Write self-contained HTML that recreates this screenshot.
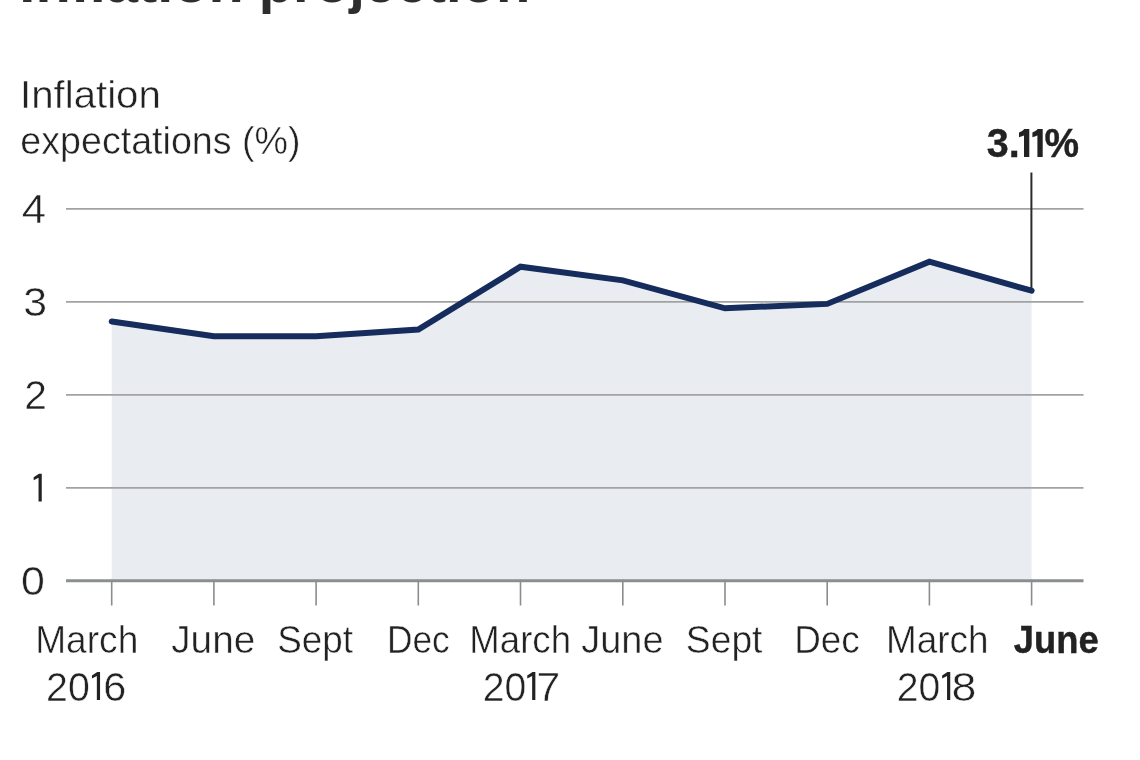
<!DOCTYPE html>
<html>
<head>
<meta charset="utf-8">
<style>
html,body{margin:0;padding:0;background:#fff;width:1140px;height:760px;overflow:hidden;}
svg{display:block;}
text{font-family:"Liberation Sans",sans-serif;fill:#222;stroke:#fff;stroke-width:0.5px;}
.b{font-weight:bold;stroke:#222;stroke-width:0.4px;}
.t{fill:#2e2e2e;stroke-width:0;}
</style>
</head>
<body>
<svg width="1140" height="760" viewBox="0 0 1140 760">
<rect x="0" y="0" width="1140" height="760" fill="#fff"/>
<path d="M111.7,321.5 L213.9,336.2 L316.1,336.2 L418.3,329.6 L520.5,266.7 L622.8,280.4 L725,308.3 L827.2,303.9 L929.4,261.7 L1031.6,290.7 L1031.6,580.7 L111.7,580.7 Z" fill="#e9edf2"/>
<g stroke="#a2a2a2" stroke-width="1.8">
<line x1="66" y1="208.9" x2="1083.5" y2="208.9"/>
<line x1="66" y1="301.9" x2="1083.5" y2="301.9"/>
<line x1="66" y1="394.9" x2="1083.5" y2="394.9"/>
<line x1="66" y1="487.8" x2="1083.5" y2="487.8"/>
</g>
<g stroke="#8a8d8d" stroke-width="1.6">
<line x1="111.7" y1="579.7" x2="111.7" y2="605.5"/>
<line x1="213.9" y1="579.7" x2="213.9" y2="605.5"/>
<line x1="316.1" y1="579.7" x2="316.1" y2="605.5"/>
<line x1="418.3" y1="579.7" x2="418.3" y2="605.5"/>
<line x1="520.5" y1="579.7" x2="520.5" y2="605.5"/>
<line x1="622.8" y1="579.7" x2="622.8" y2="605.5"/>
<line x1="725" y1="579.7" x2="725" y2="605.5"/>
<line x1="827.2" y1="579.7" x2="827.2" y2="605.5"/>
<line x1="929.4" y1="579.7" x2="929.4" y2="605.5"/>
<line x1="1031.6" y1="579.7" x2="1031.6" y2="605.5"/>
</g>
<line x1="66" y1="580.7" x2="1083.5" y2="580.7" stroke="#8a8e8e" stroke-width="3"/>
<line x1="1031.4" y1="172.5" x2="1031.4" y2="290" stroke="#2b2b2b" stroke-width="2"/>
<polyline points="111.7,321.5 213.9,336.2 316.1,336.2 418.3,329.6 520.5,266.7 622.8,280.4 725,308.3 827.2,303.9 929.4,261.7 1031.6,290.7" fill="none" stroke="#152c5c" stroke-width="6.0" stroke-linejoin="miter" stroke-linecap="round"/>
<g style="will-change:transform">
<text class="b t" x="19.39" y="1.50" font-size="56" textLength="224.39" lengthAdjust="spacingAndGlyphs">Inflation</text>
<text class="b t" x="258.73" y="1.50" font-size="56" textLength="271.59" lengthAdjust="spacingAndGlyphs">projection</text>
<text x="20.06" y="107.56" font-size="39.5" textLength="140.80" lengthAdjust="spacingAndGlyphs">Inflation</text>
<text x="20.33" y="153.90" font-size="39.5" textLength="280.23" lengthAdjust="spacingAndGlyphs">expectations (%)</text>
<text x="21.77" y="223.26" font-size="40.5" textLength="24.39" lengthAdjust="spacingAndGlyphs">4</text>
<text x="23.16" y="316.39" font-size="40.5" textLength="23.85" lengthAdjust="spacingAndGlyphs">3</text>
<text x="24.27" y="408.56" font-size="40.5" textLength="22.68" lengthAdjust="spacingAndGlyphs">2</text>
<text x="20.91" y="594.91" font-size="40.5" textLength="23.86" lengthAdjust="spacingAndGlyphs">0</text>
<text class="b" x="986.86" y="156.55" font-size="40.5" textLength="32.99" lengthAdjust="spacingAndGlyphs">3.</text>
<text class="b" x="1044.60" y="156.55" font-size="40.5" textLength="34.57" lengthAdjust="spacingAndGlyphs">%</text>
<text x="46.06" y="700.71" font-size="40.5" textLength="43.76" lengthAdjust="spacingAndGlyphs">20</text>
<text x="103.28" y="700.53" font-size="40.5" textLength="23.01" lengthAdjust="spacingAndGlyphs">6</text>
<text x="482.84" y="700.71" font-size="40.5" textLength="43.57" lengthAdjust="spacingAndGlyphs">20</text>
<text x="536.47" y="700.71" font-size="40.5" textLength="23.76" lengthAdjust="spacingAndGlyphs">7</text>
<text x="896.84" y="700.71" font-size="40.5" textLength="43.57" lengthAdjust="spacingAndGlyphs">20</text>
<text x="951.56" y="700.63" font-size="40.5" textLength="24.88" lengthAdjust="spacingAndGlyphs">8</text>
<text x="35.19" y="653.25" font-size="39.5" textLength="103.12" lengthAdjust="spacingAndGlyphs">March</text>
<text x="171.23" y="653.25" font-size="39.5" textLength="84.01" lengthAdjust="spacingAndGlyphs">June</text>
<text x="277.19" y="653.20" font-size="39.5" textLength="75.89" lengthAdjust="spacingAndGlyphs">Sept</text>
<text x="386.94" y="653.25" font-size="39.5" textLength="62.70" lengthAdjust="spacingAndGlyphs">Dec</text>
<text x="469.31" y="653.25" font-size="39.5" textLength="101.71" lengthAdjust="spacingAndGlyphs">March</text>
<text x="581.20" y="653.25" font-size="39.5" textLength="82.30" lengthAdjust="spacingAndGlyphs">June</text>
<text x="685.87" y="653.20" font-size="39.5" textLength="76.61" lengthAdjust="spacingAndGlyphs">Sept</text>
<text x="794.18" y="653.25" font-size="39.5" textLength="65.58" lengthAdjust="spacingAndGlyphs">Dec</text>
<text x="885.93" y="653.25" font-size="39.5" textLength="102.56" lengthAdjust="spacingAndGlyphs">March</text>
<text class="b" x="1013.77" y="653.20" font-size="39.5" textLength="84.85" lengthAdjust="spacingAndGlyphs">June</text>
<g fill="#222">
<path d="M41.75,473.80 L41.75,501.50 L38.55,501.50 L38.55,477.80 L33.65,480.30 L33.65,477.30 L38.95,473.80 Z"/>
<path d="M100.05,671.90 L100.05,700.10 L96.85,700.10 L96.85,675.90 L91.95,678.40 L91.95,675.40 L97.25,671.90 Z"/>
<path d="M535.35,671.90 L535.35,700.10 L532.15,700.10 L532.15,675.90 L527.25,678.40 L527.25,675.40 L532.55,671.90 Z"/>
<path d="M950.25,671.90 L950.25,700.10 L947.05,700.10 L947.05,675.90 L942.15,678.40 L942.15,675.40 L947.45,671.90 Z"/>
<path d="M1029.30,128.90 L1029.30,156.90 L1024.00,156.90 L1024.00,135.50 L1019.00,137.30 L1019.00,132.50 Q1022.50,131.30 1024.30,128.90 Z"/>
<path d="M1042.70,128.90 L1042.70,156.90 L1037.40,156.90 L1037.40,135.50 L1032.40,137.30 L1032.40,132.50 Q1035.90,131.30 1037.70,128.90 Z"/>
</g>
</g>
</svg>
</body>
</html>
